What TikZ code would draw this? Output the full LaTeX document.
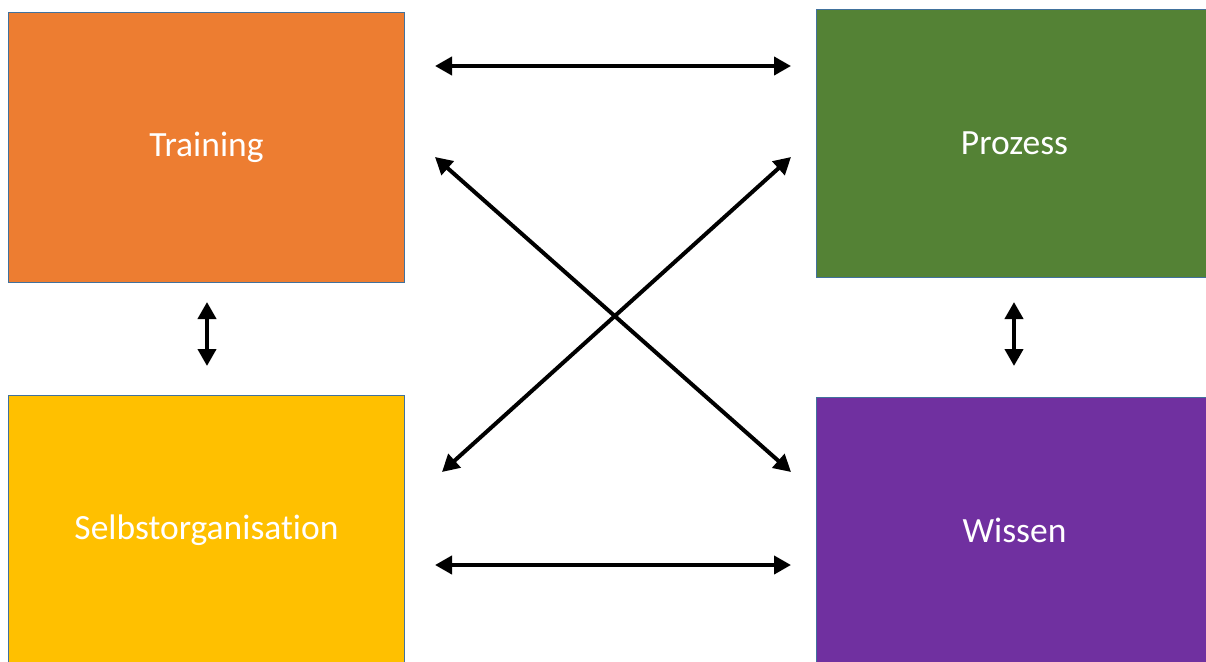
\documentclass[tikz,border=0pt]{standalone}
\usepackage{fontspec}
\setmainfont{Carlito}[Ligatures={NoCommon}]
\usetikzlibrary{arrows.meta}
\definecolor{cOrange}{HTML}{ED7D31}
\definecolor{cGreen}{HTML}{548235}
\definecolor{cYellow}{HTML}{FFC000}
\definecolor{cPurple}{HTML}{7030A0}
\definecolor{cBorder}{HTML}{41719C}
\begin{document}
\begin{tikzpicture}[x=1pt,y=-1pt,
  box/.style={draw=cBorder, line width=1pt, text=white, inner sep=0pt,
    font=\fontsize{35.5}{42}\selectfont, anchor=north west},
  link/.style={line width=4pt, {Triangle[length=17pt,width=18pt]}-{Triangle[length=17pt,width=18pt]}}]
\useasboundingbox (0,0) rectangle (1206,661);
\begin{scope}
\clip (0,0) rectangle (1206,661);
\node[box, fill=cOrange, minimum width=396pt, minimum height=270pt] (T) at (8,12) {Training};
\node[box, fill=cGreen, minimum width=396pt, minimum height=268pt] (P) at (816,9) {Prozess};
\node[box, fill=cYellow, minimum width=396pt, minimum height=270pt] (S) at (8,395) {Selbstorganisation};
\node[box, fill=cPurple, minimum width=396pt, minimum height=266pt] (W) at (816,397) {Wissen};
\end{scope}
\coordinate (h1a) at (435,66);
\coordinate (h1b) at (791,66);
\coordinate (h2a) at (435,565);
\coordinate (h2b) at (791,565);
\coordinate (d1a) at (435,157);
\coordinate (d1b) at (791,472);
\coordinate (d2a) at (442,472);
\coordinate (d2b) at (791,157);
\coordinate (v1a) at (207,302);
\coordinate (v1b) at (207,366);
\coordinate (v2a) at (1014,302);
\coordinate (v2b) at (1014,366);
\draw[link] (h1a) -- (h1b);
\draw[link] (h2a) -- (h2b);
\draw[link] (d1a) -- (d1b);
\draw[link] (d2a) -- (d2b);
\draw[link] (v1a) -- (v1b);
\draw[link] (v2a) -- (v2b);
\end{tikzpicture}
\end{document}
